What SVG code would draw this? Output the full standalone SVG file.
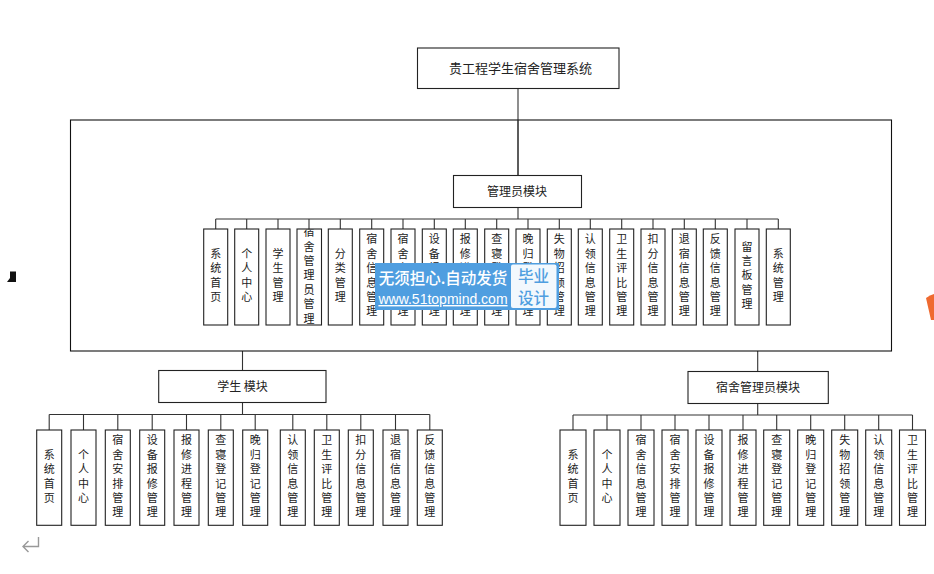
<svg xmlns="http://www.w3.org/2000/svg" width="934" height="574" viewBox="0 0 934 574">
<style>
.b{fill:#fff;stroke:#222;stroke-width:1.1}
.c{fill:none;stroke:#333;stroke-width:1.1}
text{font-family:"Noto Sans CJK SC","Noto Sans",sans-serif;fill:#222}
.h{font-size:12px;text-anchor:middle}
.v{font-size:11px;writing-mode:vertical-rl;text-anchor:middle;letter-spacing:3.4px}
.w{fill:#fff;text-anchor:middle;font-weight:500}
</style>
<defs>
<clipPath id="clip7"><rect x="297" y="229.5" width="25" height="95"/></clipPath>
</defs>
<rect width="934" height="574" fill="#fff"/>
<g id="connectors" class="c">
<path d="M518 88.5V175.5M518 207.5V219M215.7 219H778.3"/>
<path d="M215.7 219V229M246.7 219V229M278 219V229M309 219V229M340.3 219V229M371.7 219V229M403 219V229M434.3 219V229M465.3 219V229M496.7 219V229M528 219V229M559.3 219V229M590.3 219V229M621.7 219V229M653 219V229M684.3 219V229M715.3 219V229M747 219V229M778.3 219V229"/>
<path d="M242.5 351V370.5M242.5 402.5V414.5M49.2 414.5H429.8"/>
<path d="M49.2 414.5V430M83.5 414.5V430M117.8 414.5V430M152.2 414.5V430M186.5 414.5V430M220.8 414.5V430M255.2 414.5V430M292.8 414.5V430M326.8 414.5V430M360.8 414.5V430M395.5 414.5V430M429.8 414.5V430"/>
<path d="M757.7 351V371.5M757.7 403.5V415M573 415H912.5"/>
<path d="M573 415V430M607 415V430M641 415V430M675 415V430M709 415V430M743 415V430M776.7 415V430M810.7 415V430M844.7 415V430M878.7 415V430M912.5 415V430"/>
</g>
<rect id="frame" x="70.5" y="120" width="821" height="231" fill="none" stroke="#111" stroke-width="1.1"/>
<path class="c" d="M518 120V175.5"/>
<g id="root"><rect class="b" x="417.5" y="48" width="201.5" height="40.5"/><text class="h" x="520.5" y="73" style="font-size:13px">贵工程学生宿舍管理系统</text></g>
<g id="admin"><rect class="b" x="453.5" y="175.5" width="128" height="32"/><text class="h" x="517" y="196">管理员模块</text></g>
<g id="student"><rect class="b" x="158.7" y="370.5" width="167.3" height="32"/><text class="h" x="242.5" y="390.5">学生 模块</text></g>
<g id="dorm"><rect class="b" x="688" y="371.5" width="140.3" height="32"/><text class="h" x="758" y="391.5">宿舍管理员模块</text></g>

<g id="a1"><rect class="b" x="203.7" y="229" width="24" height="96"/><text class="v" x="215.7" y="277">系统首页</text></g>
<g id="a2"><rect class="b" x="234.7" y="229" width="24" height="96"/><text class="v" x="246.7" y="277">个人中心</text></g>
<g id="a3"><rect class="b" x="266" y="229" width="24" height="96"/><text class="v" x="278" y="277">学生管理</text></g>
<g id="a4"><rect class="b" x="297" y="229" width="24.5" height="96"/><text class="v" x="309" y="277" clip-path="url(#clip7)">宿舍管理员管理</text></g>
<g id="a5"><rect class="b" x="328.3" y="229" width="24" height="96"/><text class="v" x="340.3" y="277">分类管理</text></g>
<g id="a6"><rect class="b" x="359.7" y="229" width="24" height="96"/><text class="v" x="371.7" y="277">宿舍信息管理</text></g>
<g id="a7"><rect class="b" x="391" y="229" width="24" height="96"/><text class="v" x="403" y="277">宿舍安排管理</text></g>
<g id="a8"><rect class="b" x="422.3" y="229" width="24" height="96"/><text class="v" x="434.3" y="277">设备报修管理</text></g>
<g id="a9"><rect class="b" x="453.3" y="229" width="24" height="96"/><text class="v" x="465.3" y="277">报修进程管理</text></g>
<g id="a10"><rect class="b" x="484.7" y="229" width="24" height="96"/><text class="v" x="496.7" y="277">查寝登记管理</text></g>
<g id="a11"><rect class="b" x="516" y="229" width="24" height="96"/><text class="v" x="528" y="277">晚归登记管理</text></g>
<g id="a12"><rect class="b" x="547.3" y="229" width="24" height="96"/><text class="v" x="559.3" y="277">失物招领管理</text></g>
<g id="a13"><rect class="b" x="578.3" y="229" width="24" height="96"/><text class="v" x="590.3" y="277">认领信息管理</text></g>
<g id="a14"><rect class="b" x="609.7" y="229" width="24" height="96"/><text class="v" x="621.7" y="277">卫生评比管理</text></g>
<g id="a15"><rect class="b" x="641" y="229" width="24" height="96"/><text class="v" x="653" y="277">扣分信息管理</text></g>
<g id="a16"><rect class="b" x="672.3" y="229" width="24" height="96"/><text class="v" x="684.3" y="277">退宿信息管理</text></g>
<g id="a17"><rect class="b" x="703.3" y="229" width="24" height="96"/><text class="v" x="715.3" y="277">反馈信息管理</text></g>
<g id="a18"><rect class="b" x="735" y="229" width="24" height="96"/><text class="v" x="747" y="277">留言板管理</text></g>
<g id="a19"><rect class="b" x="766.3" y="229" width="24" height="96"/><text class="v" x="778.3" y="277">系统管理</text></g>

<g id="s1"><rect class="b" x="36.7" y="430" width="25" height="95.3"/><text class="v" x="49.2" y="478">系统首页</text></g>
<g id="s2"><rect class="b" x="71" y="430" width="25" height="95.3"/><text class="v" x="83.5" y="478">个人中心</text></g>
<g id="s3"><rect class="b" x="105.3" y="430" width="25" height="95.3"/><text class="v" x="117.8" y="478">宿舍安排管理</text></g>
<g id="s4"><rect class="b" x="139.7" y="430" width="25" height="95.3"/><text class="v" x="152.2" y="478">设备报修管理</text></g>
<g id="s5"><rect class="b" x="174" y="430" width="25" height="95.3"/><text class="v" x="186.5" y="478">报修进程管理</text></g>
<g id="s6"><rect class="b" x="208.3" y="430" width="25" height="95.3"/><text class="v" x="220.8" y="478">查寝登记管理</text></g>
<g id="s7"><rect class="b" x="242.7" y="430" width="25" height="95.3"/><text class="v" x="255.2" y="478">晚归登记管理</text></g>
<g id="s8"><rect class="b" x="280.3" y="430" width="25" height="95.3"/><text class="v" x="292.8" y="478">认领信息管理</text></g>
<g id="s9"><rect class="b" x="314.3" y="430" width="25" height="95.3"/><text class="v" x="326.8" y="478">卫生评比管理</text></g>
<g id="s10"><rect class="b" x="348.3" y="430" width="25" height="95.3"/><text class="v" x="360.8" y="478">扣分信息管理</text></g>
<g id="s11"><rect class="b" x="383" y="430" width="25" height="95.3"/><text class="v" x="395.5" y="478">退宿信息管理</text></g>
<g id="s12"><rect class="b" x="417.3" y="430" width="25" height="95.3"/><text class="v" x="429.8" y="478">反馈信息管理</text></g>

<g id="d1"><rect class="b" x="560" y="430" width="26" height="95.3"/><text class="v" x="573" y="478">系统首页</text></g>
<g id="d2"><rect class="b" x="594" y="430" width="26" height="95.3"/><text class="v" x="607" y="478">个人中心</text></g>
<g id="d3"><rect class="b" x="628" y="430" width="26" height="95.3"/><text class="v" x="641" y="478">宿舍信息管理</text></g>
<g id="d4"><rect class="b" x="662" y="430" width="26" height="95.3"/><text class="v" x="675" y="478">宿舍安排管理</text></g>
<g id="d5"><rect class="b" x="696" y="430" width="26" height="95.3"/><text class="v" x="709" y="478">设备报修管理</text></g>
<g id="d6"><rect class="b" x="730" y="430" width="26" height="95.3"/><text class="v" x="743" y="478">报修进程管理</text></g>
<g id="d7"><rect class="b" x="763.7" y="430" width="26" height="95.3"/><text class="v" x="776.7" y="478">查寝登记管理</text></g>
<g id="d8"><rect class="b" x="797.7" y="430" width="26" height="95.3"/><text class="v" x="810.7" y="478">晚归登记管理</text></g>
<g id="d9"><rect class="b" x="831.7" y="430" width="26" height="95.3"/><text class="v" x="844.7" y="478">失物招领管理</text></g>
<g id="d10"><rect class="b" x="865.7" y="430" width="26" height="95.3"/><text class="v" x="878.7" y="478">认领信息管理</text></g>
<g id="d11"><rect class="b" x="899.5" y="430" width="26" height="95.3"/><text class="v" x="912.5" y="478">卫生评比管理</text></g>

<g id="watermark">
<rect x="375" y="263" width="184" height="47" fill="#4f9ee0"/>
<rect x="511" y="264.5" width="45.5" height="43.5" rx="2" fill="#f2f8fd"/>
<text class="w" x="443" y="284" style="font-size:15.5px">无须担心.自动发货</text>
<text class="w" x="443" y="304" style="font-size:14px;font-family:'Liberation Sans',sans-serif;text-decoration:underline">www.51topmind.com</text>
<text x="533.5" y="281.5" style="font-size:15.5px;font-weight:500;text-anchor:middle;fill:#4f9ee0">毕业</text>
<text x="533.5" y="303.5" style="font-size:15.5px;font-weight:500;text-anchor:middle;fill:#4f9ee0">设计</text>
</g>
<path id="mark-left" d="M10 271.5H16V282H7L10 278Z" fill="#111"/>
<path id="mark-right" d="M926 298Q930 295 934 294V320H931Z" fill="#ef6a30"/>
<path id="return-mark" d="M38.5 537V546.5H23M28.5 541L23 546.5L28.5 552" fill="none" stroke="#999" stroke-width="1.4"/>
</svg>
